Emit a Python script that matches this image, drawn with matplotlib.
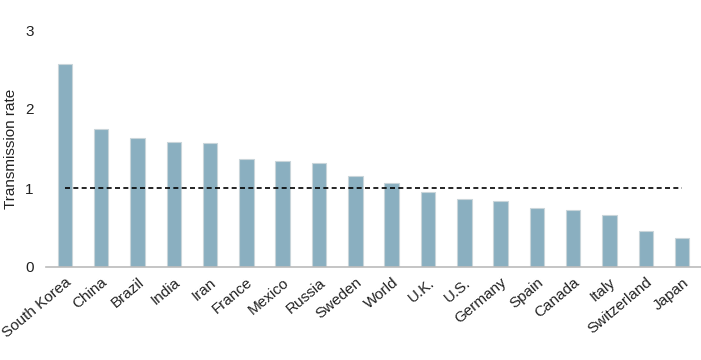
import matplotlib
matplotlib.use("Agg")
import matplotlib.pyplot as plt

countries = ["South Korea", "China", "Brazil", "India", "Iran", "France", "Mexico",
             "Russia", "Sweden", "World", "U.K.", "U.S.", "Germany", "Spain",
             "Canada", "Italy", "Switzerland", "Japan"]
rates = [2.57, 1.75, 1.63, 1.58, 1.57, 1.37, 1.34, 1.32, 1.15, 1.06,
         0.95, 0.86, 0.84, 0.75, 0.72, 0.66, 0.46, 0.37]
threshold = 1.0
yticks = [0, 1, 2, 3]

plt.rcParams['font.family'] = ['Liberation Sans', 'DejaVu Sans']

fig = plt.figure(figsize=(7.01, 3.6), dpi=100)
ax = fig.add_axes([46/701, 1-267/360, 655/701, (267-30)/360])

x = list(range(len(countries)))
ax.bar(x, rates, width=0.4, color="#8aafc0", edgecolor="#c9d5da", linewidth=0.8, zorder=2)
ax.plot([0, len(countries) - 1], [threshold, threshold], color="black",
        linestyle=(0, (3, 2)), linewidth=1.2, zorder=3)

ax.set_xlim(-0.52, len(countries) - 0.48)
ax.set_ylim(0, 3)
ax.set_yticks(yticks)
ax.set_yticklabels([str(t) for t in yticks], fontsize=11, color="#222222")
ax.set_xticks(x)
ax.set_xticklabels(countries, rotation=40, ha="right", rotation_mode="anchor",
                   fontsize=11, color="#222222")
ax.tick_params(axis="x", length=0, pad=6)
ax.tick_params(axis="y", length=0, pad=9)
ax.set_ylabel("Transmission rate", fontsize=11, color="#222222")
ax.yaxis.set_label_coords(-0.043, 0.5)

for s in ["top", "right", "left"]:
    ax.spines[s].set_visible(False)
ax.spines["bottom"].set_color("#bbbbbb")
ax.spines["bottom"].set_linewidth(1.2)

fig.savefig("out.png", dpi=100)
